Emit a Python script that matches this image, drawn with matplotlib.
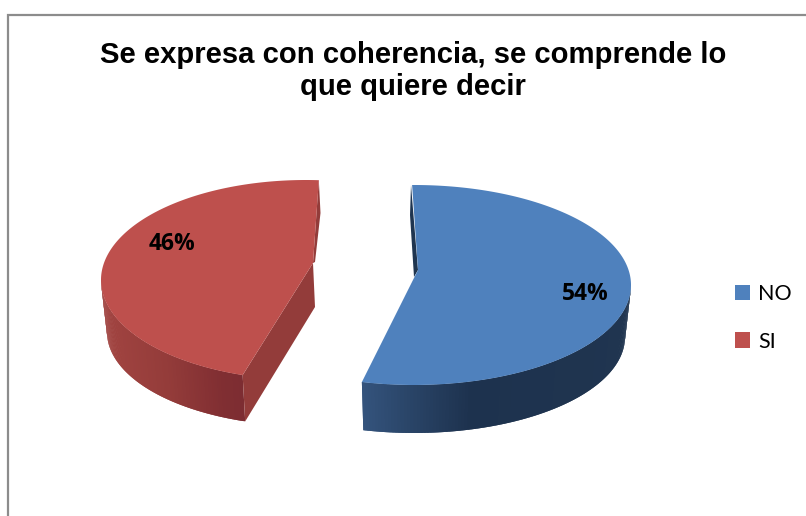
#!/usr/bin/env python3
import numpy as np
import matplotlib
matplotlib.use('Agg')
import matplotlib.pyplot as plt
from matplotlib.patches import Patch

title = 'Se expresa con coherencia, se comprende lo\nque quiere decir'
labels = ['NO', 'SI']
values = [54, 46]

colors = ['#4F81BD', '#BE504D']
# geometry of each slice, in picture pixels
start = [-0.5, 198.0]
top_ell = [(414, 285, 217, 100), (306, 280, 205, 100)]
bot_ell = [(414, 337, 211, 96), (307, 332, 200, 94)]
apex = [(418, 270), (313, 263)]
sliver = [[(411, 185), (410, 215), (414, 277), (418, 270)],
          [(318.8, 180), (320.5, 213), (315, 262), (313, 263)]]
pct_pos = [(585, 294), (172, 244)]
# side shading, x position and rgb
shade_x = [[363, 400, 470, 631], [107, 170, 225, 245]]
shade_rgb = [[(52, 84, 125), (44, 72, 108), (29, 50, 78), (32, 53, 80)],
             [(162, 68, 65), (148, 60, 58), (128, 46, 50), (125, 45, 50)]]
inner_color = ['#1F3550', '#933C3A']


def arc(ell, t):
    cx, cy, rx, ry = ell
    r = np.radians(t)
    return cx + rx*np.sin(r), cy - ry*np.cos(r)


fig = plt.figure(figsize=(8.06, 5.16), dpi=100)
ax = fig.add_axes([0, 0, 1, 1])
ax.set_xlim(0, 806)
ax.set_ylim(516, 0)
ax.axis('off')

# chart border, only top and left show
ax.plot([806, 7.5, 7.5], [15, 15, 516], color='#8C8C8C', lw=1.6, solid_joinstyle='miter')

for i, v in enumerate(values):
    t0 = start[i]
    t1 = t0 + v/sum(values)*360
    t = np.linspace(t0, t1, 300)
    x, y = arc(top_ell[i], t)

    # outer wall, only the part that faces the viewer
    lo, hi = max(t0, 90), min(t1, 270)
    edges = np.linspace(lo, hi, 121)
    xt, yt = arc(top_ell[i], edges)
    xb, yb = arc(bot_ell[i], edges)
    rgb = np.array(shade_rgb[i])/255
    for k in range(len(edges)-1):
        # each strip overlaps the next one so no seams show
        e = min(k+2, len(edges)-1)
        xm = (xb[k]+xb[k+1])/2
        c = [np.interp(xm, shade_x[i], rgb[:, n]) for n in range(3)]
        ax.fill([xt[k], xt[e], xb[e], xb[k]], [yt[k], yt[e], yb[e], yb[k]],
                color=c, lw=0, zorder=2)

    # inner walls
    ax.fill(*zip(*sliver[i]), color=inner_color[i], lw=0, zorder=2)
    if i == 1:
        cx0, cy0 = arc(top_ell[i], t0)
        bx0, by0 = arc(bot_ell[i], t0)
        ax.fill([apex[i][0], cx0, bx0, 315], [apex[i][1], cy0, by0, 307],
                color=inner_color[i], lw=0, zorder=2)

    # top face
    ax.fill(np.r_[apex[i][0], x], np.r_[apex[i][1], y], color=colors[i], lw=0, zorder=3)
    ax.text(pct_pos[i][0], pct_pos[i][1], '%d%%' % v, ha='center', va='center',
            family='Open Sans', weight='bold', fontsize=16.5, color='black', zorder=4)

ax.text(413, 71, title, ha='center', va='center', family='Liberation Sans', weight='bold',
        fontsize=21.1, linespacing=1.17, color='black')

handles = [Patch(facecolor=c, edgecolor='none') for c in colors]
ax.legend(handles, labels, loc='center left', bbox_to_anchor=(716/806, 1-318/516), frameon=False,
          prop={'family': 'Lato', 'size': 15.5}, handlelength=0.7, handleheight=0.7,
          handletextpad=0.35, labelspacing=1.26)

fig.savefig('out.png', dpi=100)
